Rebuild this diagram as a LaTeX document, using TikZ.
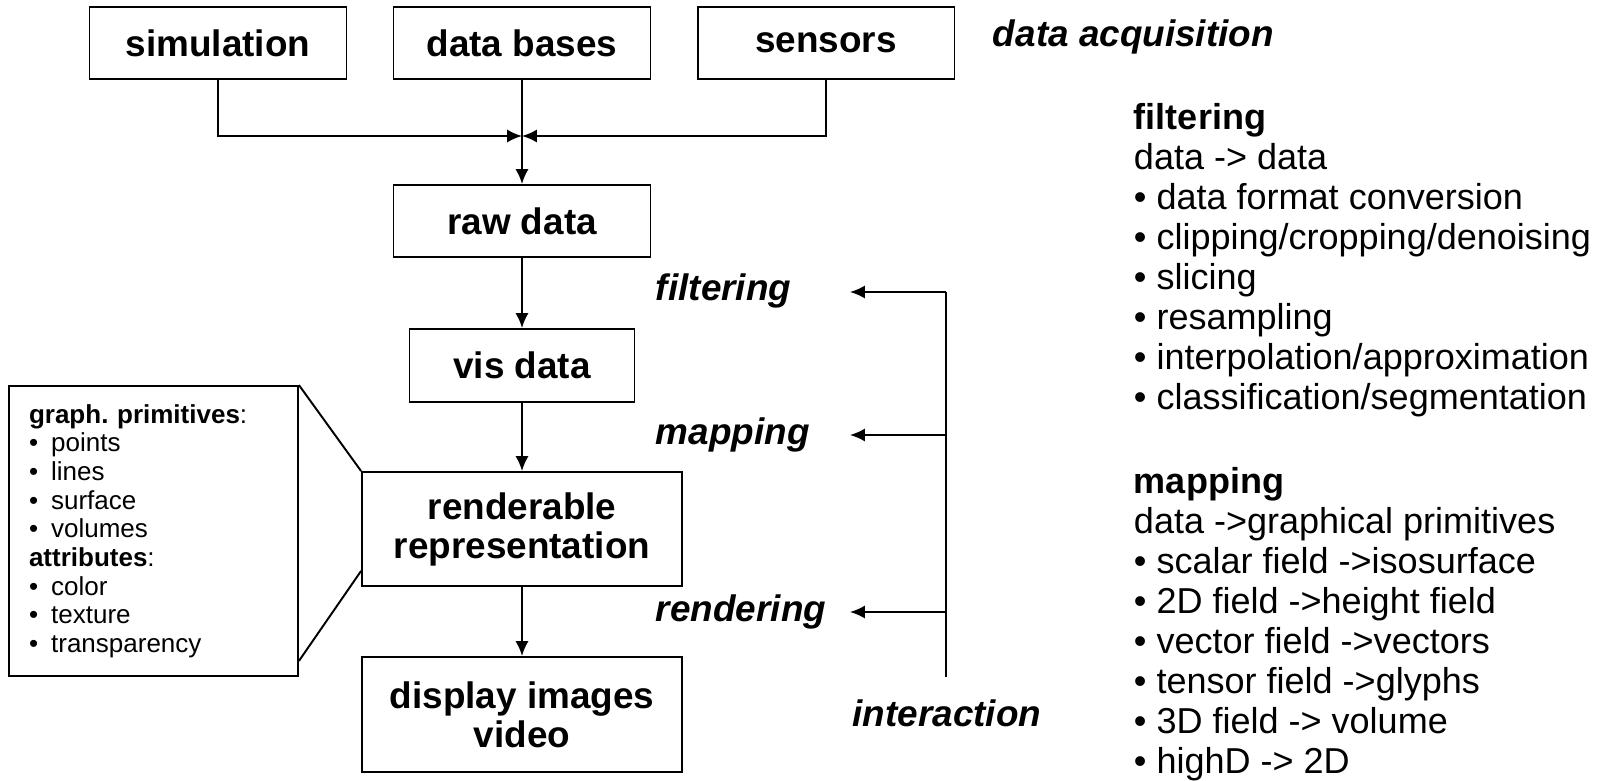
\documentclass[tikz,border=0pt]{standalone}
\usepackage{fontspec}
\setmainfont{Liberation Sans}
\usetikzlibrary{arrows.meta}
\frenchspacing

\begin{document}
\begin{tikzpicture}[x=0.02cm,y=-0.02cm,line width=1.1pt,
                    >={Latex[length=8.5pt,width=7.5pt]}]
  \tikzstyle{Box}=[draw,align=center,inner sep=0pt,
                   font=\fontsize{21}{22.2}\selectfont\bfseries,
                   minimum width=5.14cm,minimum height=1.44cm]
  \tikzstyle{StepLabel}=[inner sep=0pt,font=\fontsize{21}{22}\selectfont\bfseries\itshape]
  \tikzstyle{ListText}=[anchor=north west,align=left,inner sep=0pt,
                        font=\fontsize{20.5}{22.8}\selectfont]
  \useasboundingbox (0,0) rectangle (1606,781);

  % data acquisition
  \node[Box] (sim)  at (218,43) {simulation};
  \node[Box] (db)   at (522,43) {data bases};
  \node[Box] (sens) at (826,43) {sensors};
  \node[StepLabel,anchor=west] (acq) at (992,37) {data acquisition};

  % pipeline
  \node[Box] (raw) at (522,221) {raw data};
  \node[Box,minimum width=4.5cm,minimum height=1.46cm] (vis) at (522,365.5) {vis data};
  \node[Box,minimum width=6.4cm,minimum height=2.28cm] (rend) at (522,529) {renderable\\representation};
  \node[Box,minimum width=6.4cm,minimum height=2.3cm] (disp) at (522,714.5) {display images\\video};

  \node[draw,align=left,text width=4.98cm,inner xsep=0.4cm,minimum height=5.8cm,
        font=\fontsize{14.8}{16.3}\selectfont] (prim) at (153.5,531)
       {\textbf{graph. primitives}:\\
        \textbullet\enspace points\\
        \textbullet\enspace lines\\
        \textbullet\enspace surface\\
        \textbullet\enspace volumes\\
        \textbf{attributes}:\\
        \textbullet\enspace color\\
        \textbullet\enspace texture\\
        \textbullet\enspace transparency};

  \coordinate (join) at (522,136);
  \draw[->] (sim.south) |- (join);
  \draw[->] (sens.south) |- (join);
  \draw[->] (db.south) -- (raw.north);
  \draw[->] (raw.south) -- (vis.north);
  \draw[->] (vis.south) -- (rend.north);
  \draw[->] (rend.south) -- (disp.north);

  \draw (prim.north east) -- (rend.north west);
  \draw ([yshift=0.32cm]prim.south east) -- ([yshift=0.32cm]rend.south west);

  % interaction
  \node[StepLabel,anchor=west] (filt)  at (655,291) {filtering};
  \node[StepLabel,anchor=west] (mapl)  at (655,435) {mapping};
  \node[StepLabel,anchor=west] (rendl) at (655,612) {rendering};
  \node[StepLabel] (inter) at (947,713) {interaction};
  \coordinate (tip)  at (850,0);
  \coordinate (itop) at (946,292);
  \coordinate (ibot) at (946,677);
  \draw (ibot) -- (itop);
  \draw[->] (itop) -- (tip |- itop);
  \draw[->] (itop |- mapl) -- (tip |- mapl);
  \draw[->] (itop |- rendl) -- (tip |- rendl);

  % notes
  \node[ListText] (filtlist) at (1133,102)
       {\textbf{filtering}\\
        data -> data\\
        \textbullet{} data format conversion\\
        \textbullet{} clipping/cropping/denoising\\
        \textbullet{} slicing\\
        \textbullet{} resampling\\
        \textbullet{} interpolation/approximation\\
        \textbullet{} classification/segmentation};
  \node[ListText] (maplist) at (1133,466)
       {\textbf{mapping}\\
        data ->graphical primitives\\
        \textbullet{} scalar field ->isosurface\\
        \textbullet{} 2D field ->height field\\
        \textbullet{} vector field ->vectors\\
        \textbullet{} tensor field ->glyphs\\
        \textbullet{} 3D field -> volume\\
        \textbullet{} highD -> 2D};
\end{tikzpicture}
\end{document}
